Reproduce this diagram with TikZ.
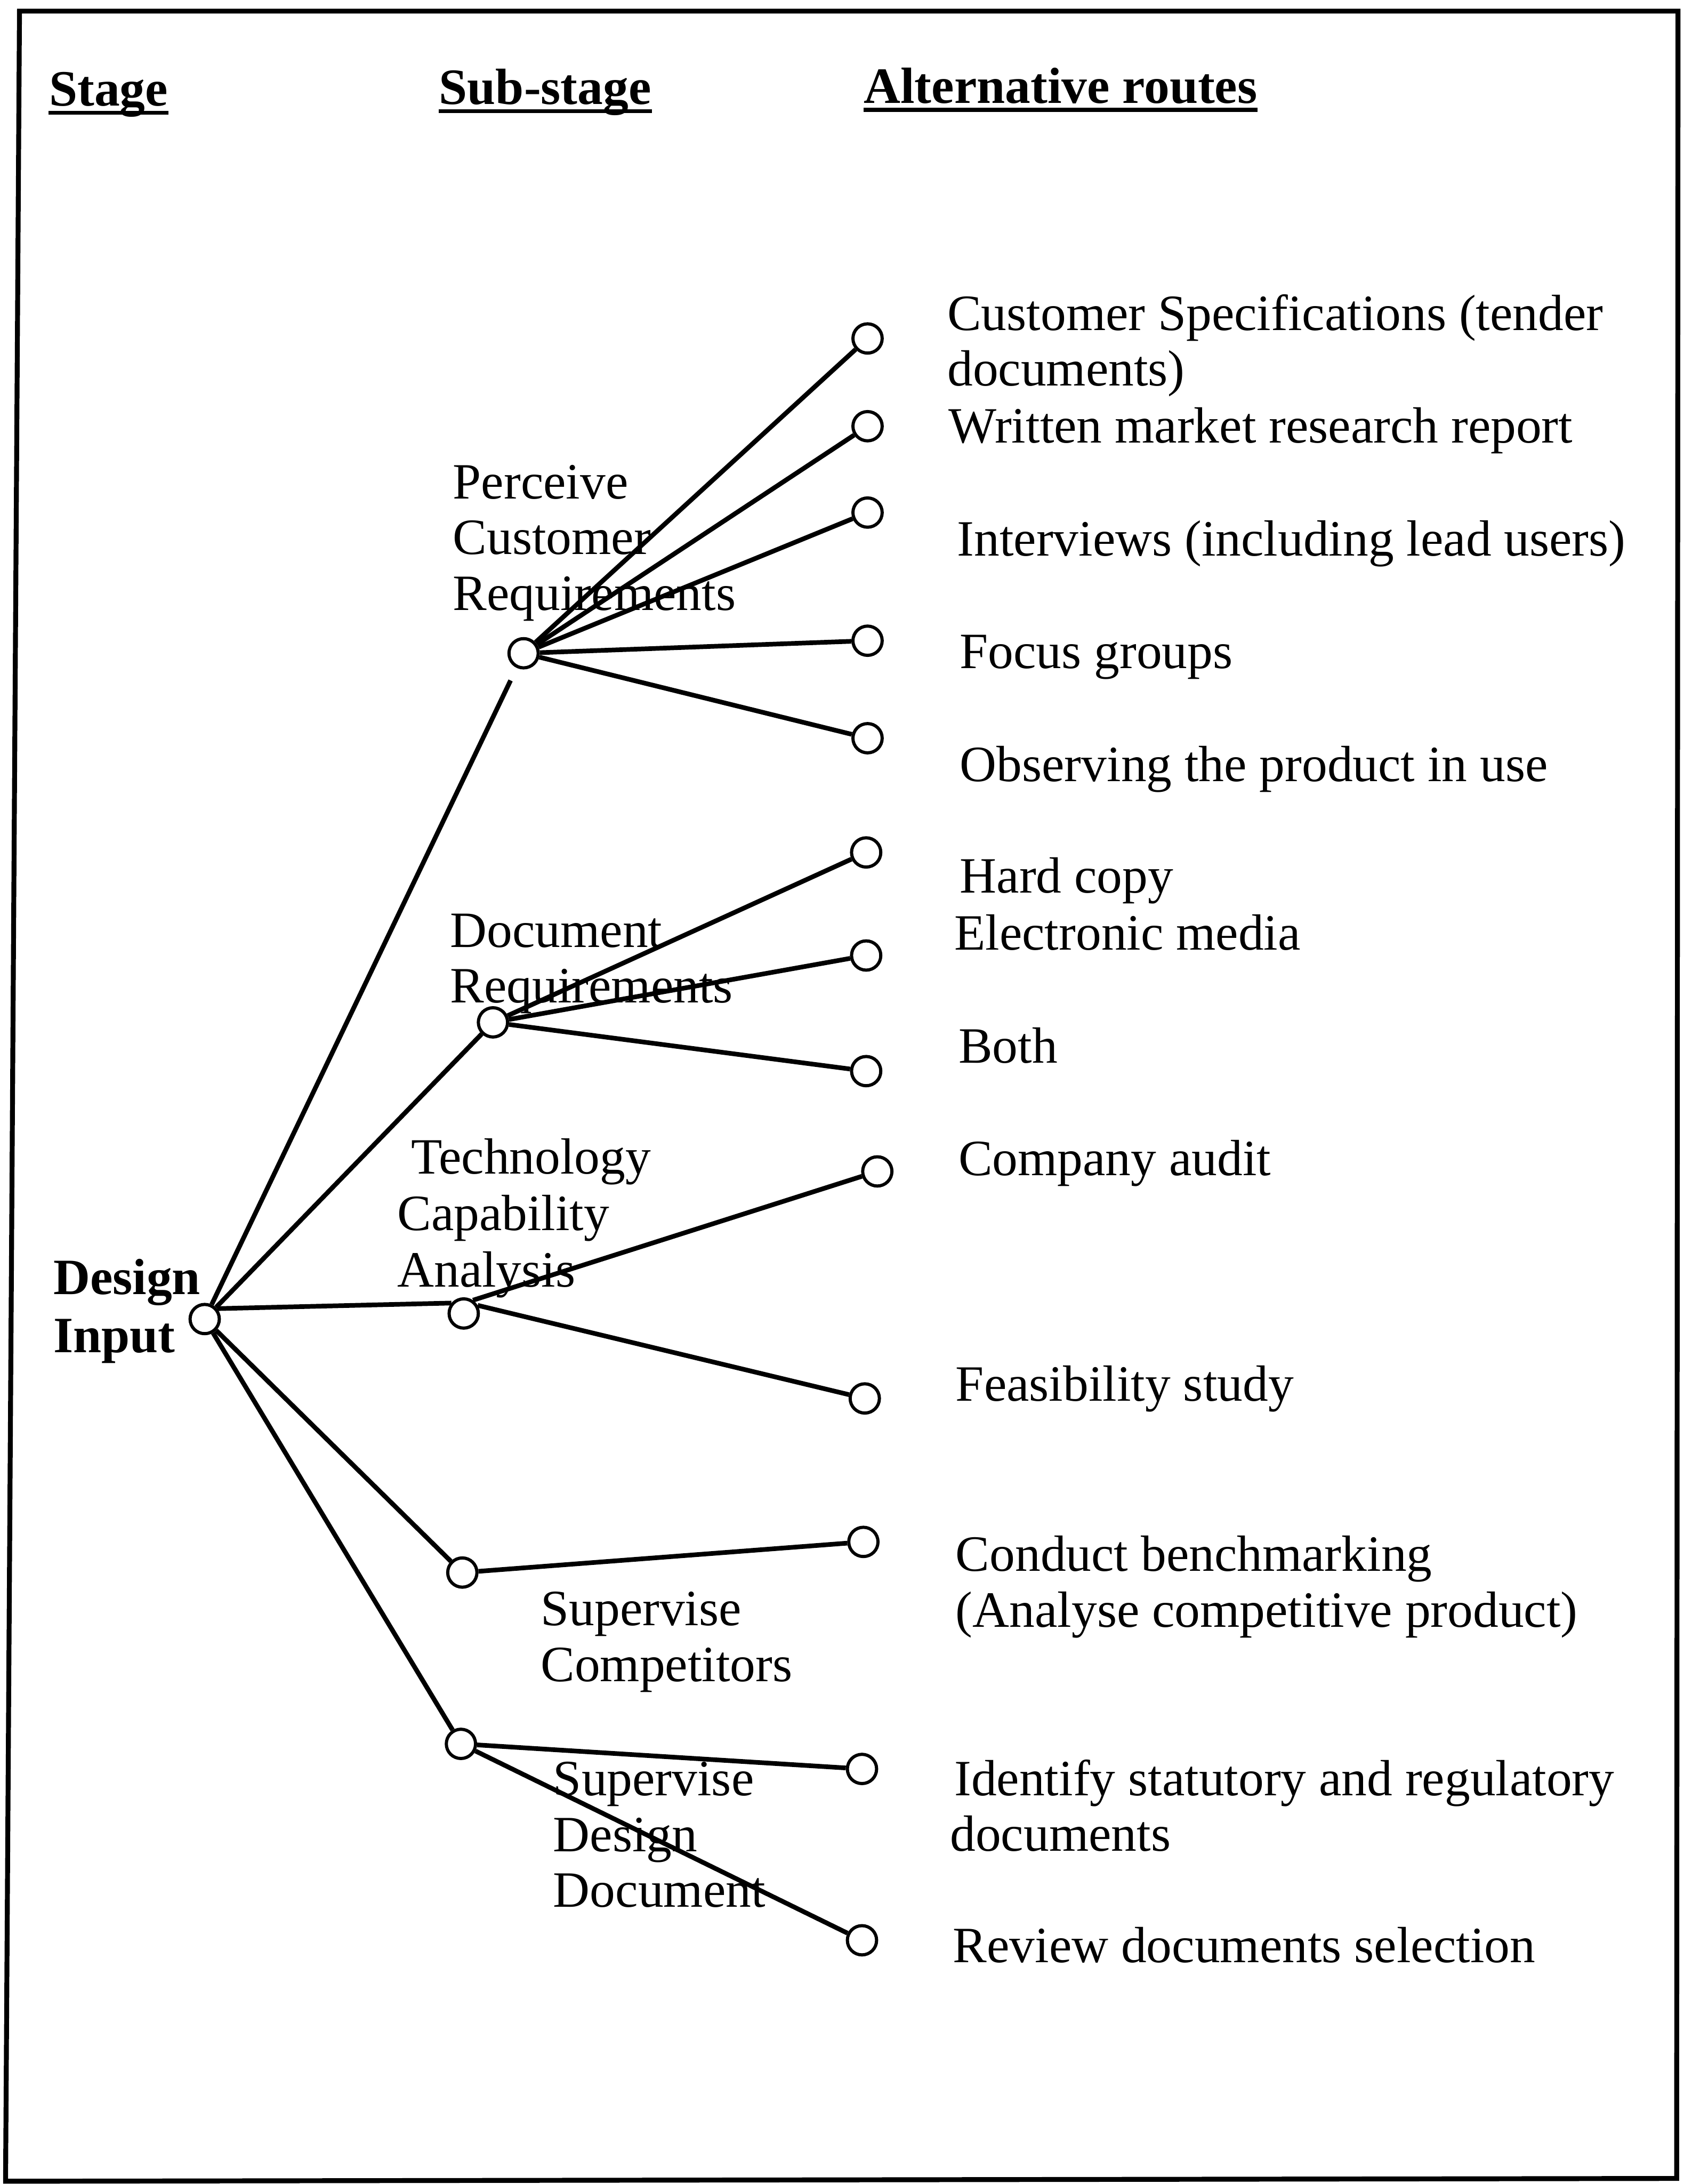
\documentclass[tikz,border=0pt]{standalone}
\usepackage{fontspec}
\setmainfont{Liberation Serif}
\begin{document}
\begin{tikzpicture}[x=0.02cm,y=-0.02cm,
  dot/.style={circle,draw,line width=1.3pt,minimum size=0.42cm,inner sep=0pt},
  link/.style={line width=1.9pt},
  lbl/.style={anchor=base west,inner sep=0pt,align=left,
              font=\fontsize{20.8}{22.7}\selectfont},
  hdr/.style={lbl,font=\fontsize{20.8}{22.7}\selectfont\bfseries},
  uline/.style={line width=1.6pt}]
\useasboundingbox (0,0) rectangle (1209,1568);

% frame
\draw[line width=2pt] (14,8) -- (1205,8) -- (1204,1564) -- (4,1566) -- cycle;

% column headings
\node[hdr] (hst) at (35,76) {Stage};
\node[hdr] (hsub) at (315,75) {Sub-stage};
\node[hdr] (halt) at (620,74) {Alternative routes};
\foreach \h in {hst,hsub,halt}
  \draw[uline] ([yshift=-2.8pt]\h.base west) -- ([yshift=-2.8pt]\h.base east);

% stage (multi-line labels are placed by the baseline of their last line)
\node[dot] (di) at (147,947) {};
\node[hdr,align=left] (dit) at (38,971) {Design\\[1.1pt]Input};

% sub-stages
\node[dot] (pc) at (376,469) {};
\node[dot] (dr) at (354,734) {};
\node[dot] (tc) at (333,943) {};
\node[dot] (sc) at (332,1129) {};
\node[dot] (sd) at (331,1252) {};

\node[lbl] (pct) at (325,438) {Perceive\\Customer\\Requirements};
\node[lbl] (drt) at (323,720) {Document\\Requirements};
\node[lbl] (tct) at (285,924) {\hspace*{5.7pt}Technology\\[0.4pt]Capability\\[0.4pt]Analysis};
\node[lbl] (sct) at (388,1207) {Supervise\\Competitors};
\node[lbl] (sdt) at (397,1369) {Supervise\\Design\\Document};

% alternative routes
\node[dot] (cs) at (623,243) {};
\node[dot] (wm) at (623,306) {};
\node[dot] (iv) at (623,368) {};
\node[dot] (fg) at (623,460) {};
\node[dot] (ob) at (623,530) {};
\node[dot] (hc) at (622,612) {};
\node[dot] (em) at (622,686) {};
\node[dot] (bo) at (622,769) {};
\node[dot] (ca) at (630,841) {};
\node[dot] (fs) at (621,1004) {};
\node[dot] (cb) at (620,1107) {};
\node[dot] (id) at (619,1270) {};
\node[dot] (rd) at (619,1393) {};

\node[lbl] (cst) at (680,277) {Customer Specifications (tender\\documents)};
\node[lbl] (wmt) at (681,318) {Written market research report};
\node[lbl] (ivt) at (687,399) {Interviews (including lead users)};
\node[lbl] (fgt) at (689,480) {Focus groups};
\node[lbl] (obt) at (689,561) {Observing the product in use};
\node[lbl] (hct) at (689,641) {Hard copy};
\node[lbl] (emt) at (685,682) {Electronic media};
\node[lbl] (bot) at (688,763) {Both};
\node[lbl] (cat) at (688,844) {Company audit};
\node[lbl] (fst) at (686,1006) {Feasibility study};
\node[lbl] (cbt) at (686,1168) {Conduct benchmarking\\(Analyse competitive product)};
\node[lbl] (idt) at (685,1329) {Identify statutory and regulatory\\\hspace*{-1.7pt}documents};
\node[lbl] (rdt) at (684,1409) {Review documents selection};

% stage to sub-stages
\draw[link,shorten >=0.2cm] (di) -- (pc);
\draw[link] (di) -- (dr);
\draw[link] (di.40) -- (tc.140);
\draw[link] (di) -- (sc);
\draw[link] (di) -- (sd);

% sub-stages to routes
\foreach \r in {cs,wm,iv,fg,ob} \draw[link] (pc) -- (\r);
\foreach \r in {hc,em,bo} \draw[link] (dr) -- (\r);
\draw[link] (tc.55) -- (ca);
\draw[link] (tc.30) -- (fs);
\draw[link] (sc) -- (cb);
\draw[link] (sd) -- (id);
\draw[link] (sd) -- (rd);
\end{tikzpicture}
\end{document}
